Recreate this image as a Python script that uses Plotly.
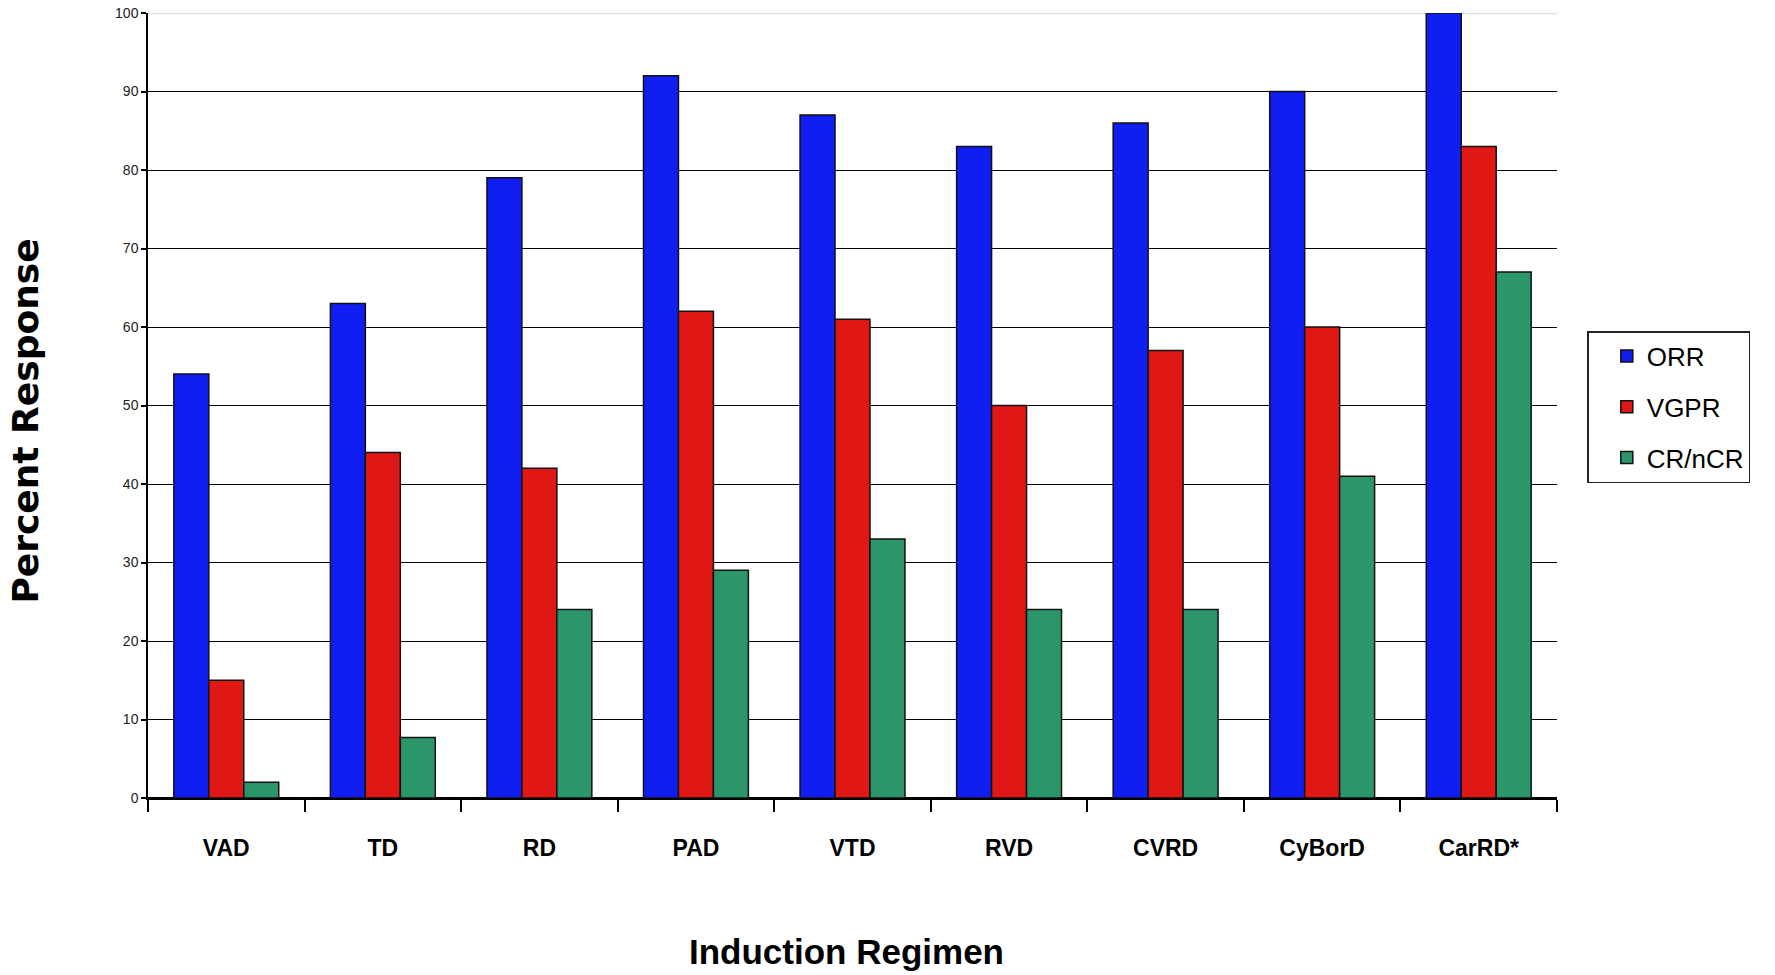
import plotly.graph_objects as go

# Induction regimens and response rates (%)
regimens = ["VAD", "TD", "RD", "PAD", "VTD", "RVD", "CVRD", "CyBorD", "CarRD*"]
orr = [54, 63, 79, 92, 87, 83, 86, 90, 100]
vgpr = [15, 44, 42, 62, 61, 50, 57, 60, 83]
cr_ncr = [2, 7.7, 24, 29, 33, 24, 24, 41, 67]

series_names = ["ORR", "VGPR", "CR/nCR"]
series_values = [orr, vgpr, cr_ncr]
series_colors = ["#101EF2", "#E01815", "#2C966B"]

fig = go.Figure()
for i, (name, vals, col) in enumerate(zip(series_names, series_values, series_colors)):
    fig.add_trace(go.Bar(
        x=regimens, y=vals, name=name, legendgroup=f"g{i}",
        marker=dict(color=col, line=dict(color="#111111", width=1.5)),
    ))

# light rule at the top of the value axis
fig.add_shape(type="line", xref="paper", yref="y", x0=0, x1=1, y0=100, y1=100,
              line=dict(color="#DDDDDD", width=2.5), layer="between")

# axis titles
fig.add_annotation(text="<b>Percent Response</b>", xref="paper", yref="paper",
                   x=-0.087, y=0.48, xanchor="center", yanchor="middle",
                   textangle=-90, showarrow=False,
                   font=dict(size=36, family="DejaVu Sans, sans-serif", color="#000000"))
fig.add_annotation(text="<b>Induction Regimen</b>", xref="paper", yref="paper",
                   x=0.496, y=-0.195, xanchor="center", yanchor="middle",
                   showarrow=False,
                   font=dict(size=35, family="Arial, Liberation Sans, sans-serif", color="#000000"))

fig.update_layout(
    width=1775, height=975,
    margin=dict(l=148, r=218, t=13, b=177, autoexpand=False),
    paper_bgcolor="white", plot_bgcolor="white",
    barmode="group", bargap=0.33, bargroupgap=0,
    font=dict(family="Arial, Liberation Sans, sans-serif", color="#000000"),
    showlegend=True,
    legend=dict(
        x=1.0215, xanchor="left", y=0.498, yanchor="middle",
        bordercolor="#222222", borderwidth=1.5, bgcolor="white",
        font=dict(size=26, color="#000000"),
        tracegroupgap=14, itemwidth=30, indentation=18,
    ),
    xaxis=dict(
        automargin=False,
        showline=True, linecolor="#000000", linewidth=1.5,
        ticks="outside", tickson="boundaries", ticklen=12, tickcolor="#000000", tickwidth=1.5,
        tickfont=dict(size=23, family="Arial, Liberation Sans, sans-serif", color="#000000", weight="bold"),
        ticklabelstandoff=29,
    ),
    yaxis=dict(
        automargin=False,
        range=[0, 100], tickvals=list(range(0, 101, 10)),
        showgrid=True, gridcolor="#000000", gridwidth=1.4,
        zeroline=True, zerolinecolor="#000000", zerolinewidth=1.5,
        showline=True, linecolor="#000000", linewidth=1.5,
        ticks="outside", ticklen=5, tickcolor="#000000", tickwidth=1.5,
        tickfont=dict(size=14, color="#222222"),
    ),
)

fig.write_html("out.html")
